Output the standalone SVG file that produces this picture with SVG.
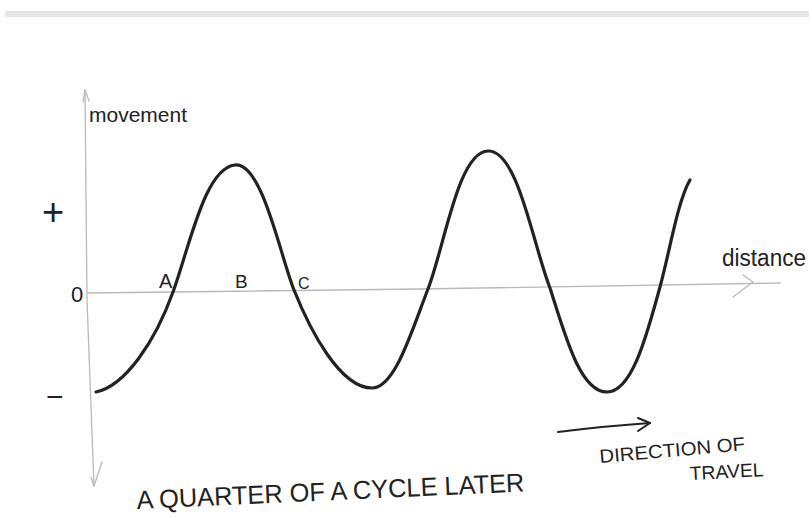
<svg xmlns="http://www.w3.org/2000/svg" width="809" height="518" viewBox="0 0 809 518">
<style>
.axis{fill:none;stroke:#b9b9b9;stroke-width:1.3;stroke-linecap:round;stroke-linejoin:round}
.ink{fill:none;stroke:#222;stroke-linecap:round;stroke-linejoin:round}
.t{font-family:"Liberation Sans",Arial,sans-serif;fill:#222}
</style>
<rect width="809" height="518" fill="#ffffff"/>
<rect x="5" y="11" width="804" height="6" fill="#e6e6e6"/>
<g id="axes">
  <path class="axis" d="M85,90 L87,300 L94,486"/>
  <path class="axis" d="M83,102 L85,90 L89,101"/>
  <path class="axis" d="M91,477 L94,486 L102,462"/>
  <path class="axis" d="M88,293 L420,289 L780,283"/>
  <path class="axis" d="M743,275 L753,282 L733,297"/>
</g>
<g id="axis-labels">
  <text class="t" x="89" y="122" font-size="21" textLength="98" lengthAdjust="spacingAndGlyphs">movement</text>
  <text class="t" x="722" y="266" font-size="23" textLength="84" lengthAdjust="spacingAndGlyphs">distance</text>
  <text class="t" x="42" y="225" font-size="38">+</text>
  <text class="t" x="71" y="302" font-size="22">0</text>
  <text class="t" x="46" y="407" font-size="30">−</text>
</g>
<g id="wave">
  <path class="ink" stroke-width="3.2" d="M96,392 C125,386 155,342 173,292 C190,245 205,168 235,165 C262,162 280,255 294,290 C310,330 340,388 372,388 C395,388 412,330 428,289 C445,245 458,152 488,151 C518,150 533,245 550,288 C565,335 580,392 607,392 C633,392 648,330 660,287 C670,250 678,200 690,180"/>
</g>
<g id="point-labels">
  <text class="t" x="159" y="288" font-size="20">A</text>
  <text class="t" x="235" y="288" font-size="19">B</text>
  <text class="t" x="298" y="289" font-size="16">C</text>
</g>
<g id="direction">
  <path class="ink" stroke-width="2" d="M558,432 C590,428 620,425 650,423"/>
  <path class="ink" stroke-width="2" d="M638,418 L650,423 L638,431"/>
  <text class="t" x="600" y="463" font-size="19" textLength="146" lengthAdjust="spacingAndGlyphs" transform="rotate(-5 600 463)">DIRECTION OF</text>
  <text class="t" x="690" y="480" font-size="19" textLength="74" lengthAdjust="spacingAndGlyphs" transform="rotate(-3 690 480)">TRAVEL</text>
</g>
<g id="caption">
  <text class="t" x="137" y="509" font-size="26" textLength="388" lengthAdjust="spacingAndGlyphs" transform="rotate(-2.6 137 509)">A QUARTER OF A CYCLE LATER</text>
</g>
</svg>
